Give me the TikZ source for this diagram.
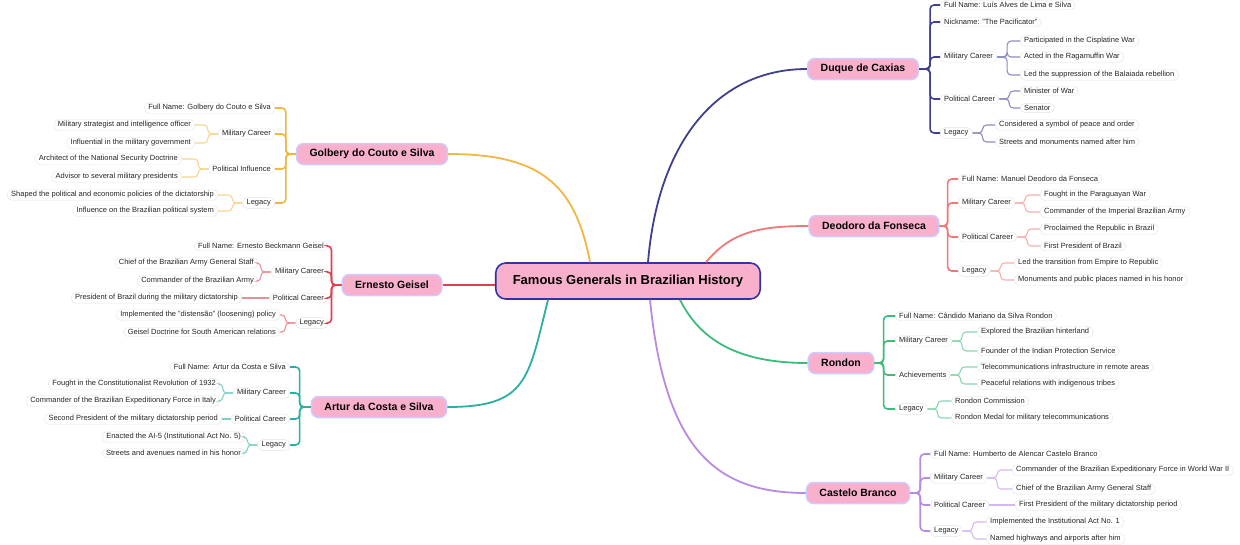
\documentclass[tikz,border=0pt]{standalone}
\usepackage{fontspec}
\setmainfont{Liberation Sans}
\begin{document}
\begin{tikzpicture}[x=1pt,y=-1pt,
 leaf/.style={draw=gray!22,fill=white,rounded corners=5pt,inner xsep=4pt,inner ysep=2pt,font=\fontsize{7.5}{8}\selectfont,text=black!85},
 mainn/.style={draw=blue!20,line width=1.5pt,fill=pink!70!magenta!40,rounded corners=7pt,minimum height=21,inner xsep=13pt,font=\fontsize{10.5}{12}\selectfont\bfseries},
 br/.style={rounded corners=4pt,line width=1.6pt},
 sb/.style={rounded corners=4pt,line width=1.1pt}]
\definecolor{cA}{HTML}{3F3F8F}\definecolor{cB}{HTML}{F07878}\definecolor{cC}{HTML}{3DBB7A}
\definecolor{cD}{HTML}{B98BE0}\definecolor{cE}{HTML}{E0404F}\definecolor{cF}{HTML}{F0B840}
\definecolor{cG}{HTML}{2AAFA0}\definecolor{pk}{HTML}{F9B0CC}
\useasboundingbox (0,0) rectangle (1240,544);
\tikzset{mainn/.append style={fill=pk}}
\node[mainn,draw=blue!55!black!80,line width=1.6pt,rounded corners=10pt,minimum height=36,inner xsep=17pt,font=\fontsize{13}{14}\selectfont\bfseries] (root) at (628,281) {Famous Generals in Brazilian History};
% ---------- Duque
\node[mainn] (A) at (863,69) {Duque de Caxias};
\foreach \n/\y/\t in {a1/5/{Full Name: Luís Alves de Lima e Silva},a2/22/{Nickname: "The Pacificator"},a3/57/{Military Career},a4/99/{Political Career},a5/133/{Legacy}}
 \node[leaf,anchor=west] (\n) at (940,\y) {\t};
\foreach \n/\y/\t in {a31/41/{Participated in the Cisplatine War},a32/57/{Acted in the Ragamuffin War},a33/75/{Led the suppression of the Balaiada rebellion},a41/91/{Minister of War},a42/108/{Senator}}
 \node[leaf,anchor=west] (\n) at (1020,\y) {\t};
\foreach \n/\y/\t in {a51/125/{Considered a symbol of peace and order},a52/142/{Streets and monuments named after him}}
 \node[leaf,anchor=west] (\n) at (995,\y) {\t};
\foreach \c in {a1,a2,a3,a4,a5} \draw[br,cA] (A.east) -- ++(11,0) |- (\c.west);
\foreach \c in {a31,a32,a33} \draw[sb,cA!60] (a3.east) -- ++(10,0) |- (\c.west);
\foreach \c in {a41,a42} \draw[sb,cA!60] (a4.east) -- ++(10,0) |- (\c.west);
\foreach \c in {a51,a52} \draw[sb,cA!60] (a5.east) -- ++(10,0) |- (\c.west);
% ---------- Deodoro
\node[mainn] (B) at (874,226) {Deodoro da Fonseca};
\foreach \n/\y/\t in {b1/179/{Full Name: Manuel Deodoro da Fonseca},b2/203/{Military Career},b3/237/{Political Career},b4/271/{Legacy}}
 \node[leaf,anchor=west] (\n) at (958,\y) {\t};
\foreach \n/\y/\t in {b21/195/{Fought in the Paraguayan War},b22/212/{Commander of the Imperial Brazilian Army},b31/229/{Proclaimed the Republic in Brazil},b32/246/{First President of Brazil}}
 \node[leaf,anchor=west] (\n) at (1040,\y) {\t};
\foreach \n/\y/\t in {b41/263/{Led the transition from Empire to Republic},b42/280/{Monuments and public places named in his honor}}
 \node[leaf,anchor=west] (\n) at (1014,\y) {\t};
\foreach \c in {b1,b2,b3,b4} \draw[br,cB] (B.east) -- ++(8,0) |- (\c.west);
\foreach \c in {b21,b22} \draw[sb,cB!60] (b2.east) -- ++(10,0) |- (\c.west);
\foreach \c in {b31,b32} \draw[sb,cB!60] (b3.east) -- ++(10,0) |- (\c.west);
\foreach \c in {b41,b42} \draw[sb,cB!60] (b4.east) -- ++(10,0) |- (\c.west);
% ---------- Rondon
\node[mainn] (C) at (841,363) {Rondon};
\foreach \n/\y/\t in {c1/316/{Full Name: Cândido Mariano da Silva Rondon},c2/341/{Military Career},c3/375/{Achievements},c4/409/{Legacy}}
 \node[leaf,anchor=west] (\n) at (895,\y) {\t};
\foreach \n/\y/\t in {c21/332/{Explored the Brazilian hinterland},c22/351/{Founder of the Indian Protection Service},c31/367/{Telecommunications infrastructure in remote areas},c32/384/{Peaceful relations with indigenous tribes}}
 \node[leaf,anchor=west] (\n) at (977,\y) {\t};
\foreach \n/\y/\t in {c41/401/{Rondon Commission},c42/418/{Rondon Medal for military telecommunications}}
 \node[leaf,anchor=west] (\n) at (951,\y) {\t};
\foreach \c in {c1,c2,c3,c4} \draw[br,cC] (C.east) -- ++(9,0) |- (\c.west);
\foreach \c in {c21,c22} \draw[sb,cC!60] (c2.east) -- ++(10,0) |- (\c.west);
\foreach \c in {c31,c32} \draw[sb,cC!60] (c3.east) -- ++(10,0) |- (\c.west);
\foreach \c in {c41,c42} \draw[sb,cC!60] (c4.east) -- ++(10,0) |- (\c.west);
% ---------- Castelo
\node[mainn] (D) at (858,493) {Castelo Branco};
\foreach \n/\y/\t in {d1/454/{Full Name: Humberto de Alencar Castelo Branco},d2/478/{Military Career},d3/505/{Political Career},d4/531/{Legacy}}
 \node[leaf,anchor=west] (\n) at (930,\y) {\t};
\foreach \n/\y/\t in {d21/470/{Commander of the Brazilian Expeditionary Force in World War II},d22/489/{Chief of the Brazilian Army General Staff}}
 \node[leaf,anchor=west] (\n) at (1012,\y) {\t};
\node[leaf,anchor=west] (d31) at (1015,505) {First President of the military dictatorship period};
\foreach \n/\y/\t in {d41/522/{Implemented the Institutional Act No. 1},d42/539/{Named highways and airports after him}}
 \node[leaf,anchor=west] (\n) at (986,\y) {\t};
\foreach \c in {d1,d2,d3,d4} \draw[br,cD] (D.east) -- ++(10,0) |- (\c.west);
\foreach \c in {d21,d22} \draw[sb,cD!60] (d2.east) -- ++(10,0) |- (\c.west);
\draw[sb,cD!60] (d3.east) -- (d31.west);
\foreach \c in {d41,d42} \draw[sb,cD!60] (d4.east) -- ++(10,0) |- (\c.west);
% ---------- Golbery
\node[mainn] (F) at (372,154) {Golbery do Couto e Silva};
\foreach \n/\y/\t in {f1/108/{Full Name: Golbery do Couto e Silva},f2/134/{Military Career},f3/169/{Political Influence},f4/203/{Legacy}}
 \node[leaf,anchor=east] (\n) at (275,\y) {\t};
\foreach \n/\y/\t in {f21/125/{Military strategist and intelligence officer},f22/143/{Influential in the military government}}
 \node[leaf,anchor=east] (\n) at (195,\y) {\t};
\foreach \n/\y/\t in {f31/159/{Architect of the National Security Doctrine},f32/177/{Advisor to several military presidents}}
 \node[leaf,anchor=east] (\n) at (182,\y) {\t};
\foreach \n/\y/\t in {f41/195/{Shaped the political and economic policies of the dictatorship},f42/211/{Influence on the Brazilian political system}}
 \node[leaf,anchor=east] (\n) at (218,\y) {\t};
\foreach \c in {f1,f2,f3,f4} \draw[br,cF] (F.west) -- ++(-10,0) |- (\c.east);
\foreach \c in {f21,f22} \draw[sb,cF!60] (f2.west) -- ++(-10,0) |- (\c.east);
\foreach \c in {f31,f32} \draw[sb,cF!60] (f3.west) -- ++(-10,0) |- (\c.east);
\foreach \c in {f41,f42} \draw[sb,cF!60] (f4.west) -- ++(-10,0) |- (\c.east);
% ---------- Ernesto
\node[mainn] (E) at (392,285) {Ernesto Geisel};
\foreach \n/\y/\t in {e1/246/{Full Name: Ernesto Beckmann Geisel},e2/272/{Military Career},e3/298/{Political Career},e4/323/{Legacy}}
 \node[leaf,anchor=east] (\n) at (328,\y) {\t};
\foreach \n/\y/\t in {e21/263/{Chief of the Brazilian Army General Staff},e22/281/{Commander of the Brazilian Army}}
 \node[leaf,anchor=east] (\n) at (258,\y) {\t};
\node[leaf,anchor=east] (e31) at (242,298) {President of Brazil during the military dictatorship};
\foreach \n/\y/\t in {e41/315/{Implemented the "distensão" (loosening) policy},e42/332/{Geisel Doctrine for South American relations}}
 \node[leaf,anchor=east] (\n) at (280,\y) {\t};
\foreach \c in {e1,e2,e3,e4} \draw[br,cE] (E.west) -- ++(-10,0) |- (\c.east);
\foreach \c in {e21,e22} \draw[sb,cE!60] (e2.west) -- ++(-10,0) |- (\c.east);
\draw[sb,cE!60] (e3.west) -- (e31.east);
\foreach \c in {e41,e42} \draw[sb,cE!60] (e4.west) -- ++(-10,0) |- (\c.east);
% ---------- Artur
\node[mainn] (G) at (379,407) {Artur da Costa e Silva};
\foreach \n/\y/\t in {g1/367/{Full Name: Artur da Costa e Silva},g2/393/{Military Career},g3/419/{Political Career},g4/445/{Legacy}}
 \node[leaf,anchor=east] (\n) at (290,\y) {\t};
\foreach \n/\y/\t in {g21/384/{Fought in the Constitutionalist Revolution of 1932},g22/401/{Commander of the Brazilian Expeditionary Force in Italy}}
 \node[leaf,anchor=east] (\n) at (220,\y) {\t};
\node[leaf,anchor=east] (g31) at (222,419) {Second President of the military dictatorship period};
\foreach \n/\y/\t in {g41/437/{Enacted the AI-5 (Institutional Act No. 5)},g42/453/{Streets and avenues named in his honor}}
 \node[leaf,anchor=east] (\n) at (245,\y) {\t};
\foreach \c in {g1,g2,g3,g4} \draw[br,cG] (G.west) -- ++(-11,0) |- (\c.east);
\foreach \c in {g21,g22} \draw[sb,cG!60] (g2.west) -- ++(-10,0) |- (\c.east);
\draw[sb,cG!60] (g3.west) -- (g31.east);
\foreach \c in {g41,g42} \draw[sb,cG!60] (g4.west) -- ++(-10,0) |- (\c.east);
% ---------- root links
\begin{scope}[line width=1.8pt]
\draw[cA] ([xshift=20]root.north) .. controls +(10,-120) and +(-90,0) .. (A.west);
\draw[cB] ([xshift=78]root.north) .. controls +(25,-30) and +(-50,0) .. (B.west);
\draw[cC] ([xshift=52]root.south) .. controls +(20,40) and +(-70,0) .. (C.west);
\draw[cD] ([xshift=22]root.south) .. controls +(15,150) and +(-90,0) .. (D.west);
\draw[cF] ([xshift=-38]root.north) .. controls +(-15,-80) and +(90,0) .. (F.east);
\draw[cE] (E.east) -- (E.east -| root.west);
\draw[cG] ([xshift=-80]root.south) .. controls +(-20,80) and +(80,0) .. (G.east);
\end{scope}
\end{tikzpicture}
\end{document}
